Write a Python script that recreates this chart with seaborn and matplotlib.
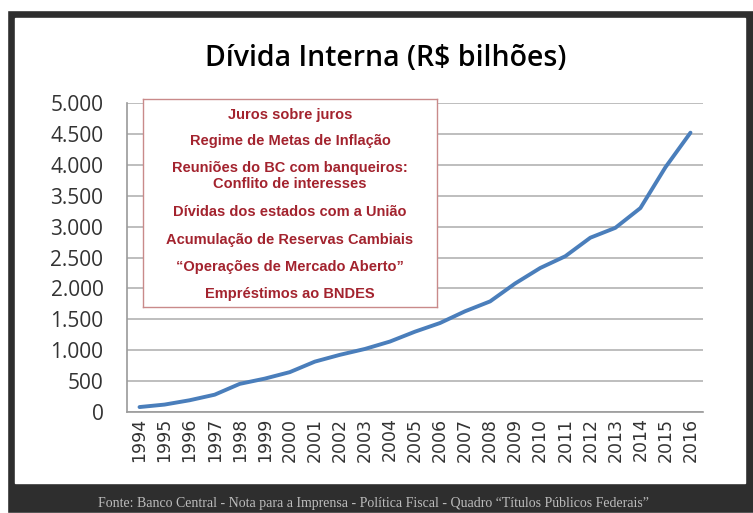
import matplotlib
matplotlib.use('Agg')
import matplotlib.pyplot as plt
import matplotlib.patches as patches
from matplotlib.ticker import FuncFormatter, MultipleLocator
import seaborn as sns
import pandas as pd

# Dados (R$ bilhões)
anos = ['1994', '1995', '1996', '1997', '1998', '1999', '2000', '2001',
        '2002', '2003', '2004', '2005', '2006', '2007', '2008', '2009',
        '2010', '2011', '2012', '2013', '2014', '2015', '2016']
divida = [80, 120, 190, 280, 455, 540, 645, 815, 925, 1020, 1140, 1300,
          1440, 1630, 1790, 2080, 2330, 2520, 2820, 2980, 3300, 3960, 4520]

causas = ['Juros sobre juros',
          'Regime de Metas de Inflação',
          'Reuniões do BC com banqueiros:\nConflito de interesses',
          'Dívidas dos estados com a União',
          'Acumulação de Reservas Cambiais',
          '\u201cOperações de Mercado Aberto\u201d',
          'Empréstimos ao BNDES']
causas_y = [115, 141, 176, 212, 240, 267, 294]

fonte = ('Fonte: Banco Central - Nota para a Imprensa - Política Fiscal - '
         'Quadro \u201cTítulos Públicos Federais\u201d')

df = pd.DataFrame({'ano': anos, 'divida': divida})

W, H = 753, 513


def px(x0, y0, x1, y1):
    # caixa em pixels (origem no topo) -> coordenadas da figura
    return [x0 / W, 1 - y1 / H, (x1 - x0) / W, (y1 - y0) / H]


sns.set_style('white')
plt.rcParams['font.family'] = ['DejaVu Sans']

fig = plt.figure(figsize=(W / 100, H / 100), dpi=100)
fig.patch.set_facecolor('white')

# moldura escura + area branca
fig.patches.append(patches.Rectangle((7 / W, 0), 1, 1 - 10 / H,
                                     transform=fig.transFigure,
                                     facecolor='#2e2e2e', zorder=-10))
r = px(15, 18, 745, 483)
fig.patches.append(patches.Rectangle((r[0], r[1]), r[2], r[3],
                                     transform=fig.transFigure,
                                     facecolor='white', zorder=-9))

ax = fig.add_axes(px(127, 103, 703, 412))
sns.lineplot(data=df, x='ano', y='divida', ax=ax, color='#4a7ebb',
             linewidth=2.8, sort=False)

ax.set_xlim(-0.5, len(anos) - 0.5)
ax.set_ylim(0, 5000)
ax.yaxis.set_major_locator(MultipleLocator(500))
ax.yaxis.set_major_formatter(
    FuncFormatter(lambda v, p: f'{int(v):,}'.replace(',', '.')))
ax.grid(axis='y', color='#b3b3b3', linewidth=1.2)
ax.set_axisbelow(True)
ax.set_xlabel('')
ax.set_ylabel('')

for s in ['top', 'right']:
    ax.spines[s].set_visible(False)
for s in ['left', 'bottom']:
    ax.spines[s].set_color('#9a9a9a')
    ax.spines[s].set_linewidth(1.2)

ax.set_xticks(range(len(anos)))
ax.set_xticklabels(anos, rotation=90, fontsize=12.5, color='#333333')
ax.set_xticks([i - 0.5 for i in range(len(anos) + 1)], minor=True)
ax.tick_params(axis='x', which='major', length=0, pad=4)
ax.tick_params(axis='x', which='minor', length=5, color='#9a9a9a', width=1.2)
ax.tick_params(axis='y', length=5, color='#9a9a9a', width=1.2, pad=12,
               labelsize=15, labelcolor='#333333')
for t in ax.get_yticklabels():
    t.set_fontfamily('Open Sans')

# titulo
fig.text(386 / W, 1 - 59 / H, 'Dívida Interna (R$ bilhões)',
         ha='center', va='center', fontsize=20.5, fontfamily='Open Sans',
         fontweight='semibold', color='black')

# caixa com as causas
box = fig.add_axes(px(143, 99, 437, 307))
box.set_xlim(0, 1)
box.set_ylim(307, 99)
box.set_xticks([])
box.set_yticks([])
box.set_facecolor('white')
for s in box.spines.values():
    s.set_color('#c98a8a')
    s.set_linewidth(1.0)
for txt, y in zip(causas, causas_y):
    box.text(0.5, y, txt, ha='center', va='center', fontsize=10.5,
             fontfamily='Liberation Sans', fontweight='bold',
             color='#a3232e', linespacing=1.25)

# fonte (na faixa escura inferior)
fig.text(373 / W, 1 - 504 / H, fonte, ha='center', va='center',
         fontsize=10, fontfamily='Liberation Serif', color='#bdbdbd')

fig.savefig('out.png', dpi=100, facecolor=fig.get_facecolor())
